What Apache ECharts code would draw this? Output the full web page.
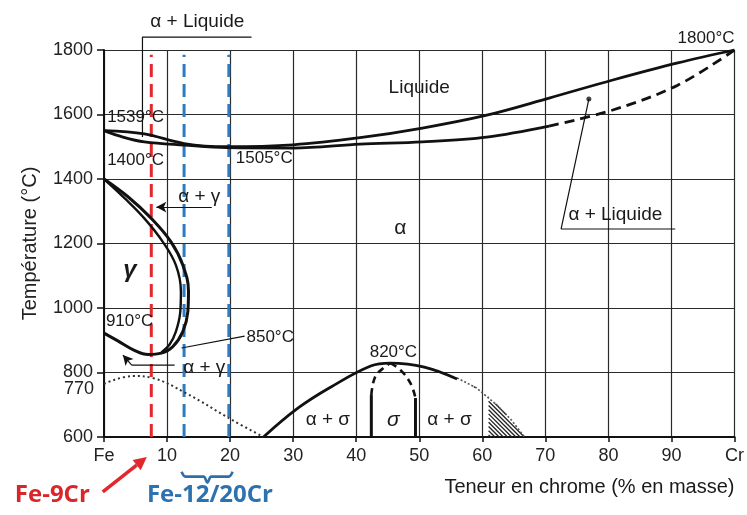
<!DOCTYPE html>
<html><head><meta charset="utf-8">
<script src="https://cdn.jsdelivr.net/npm/echarts@6/dist/echarts.min.js"></script>
<style>html,body{margin:0;padding:0;background:#fff}#c{width:747px;height:515px}</style>
</head><body><div id="c"></div>
<script>
// ---- tick labels ----
const xTickValues = [0,10,20,30,40,50,60,70,80,90,100];
const xTickLabels = ['Fe','10','20','30','40','50','60','70','80','90','Cr'];
const yTickValues = [600,800,1000,1200,1400,1600,1800];
const curieTickLabel = ['770', 0, 750];

// ---- phase boundaries [Cr %, T °C] ----
const liquidus = [[0,1550],[6.4,1540],[12.7,1510],[19.5,1500],[30,1506],[40.6,1528],[50.5,1558],[60.7,1598],[70.6,1651],[80.7,1707],[91,1760],[100,1800]];
const solidus = [[0,1550],[3,1530],[6.4,1515],[12.7,1505],[19.5,1497],[30,1496],[40.6,1508],[50.5,1515],[60.7,1530],[70.6,1564]];
const solidusDashed = [[70.6,1564],[80.7,1614],[91,1691],[100,1800]];
const gammaOuter = [[0,1400],[3.8,1345],[7.5,1278],[10.6,1206],[12.5,1133],[13.4,1051],[13.3,989],[12.5,927],[10.9,880],[9.1,860],[7,856],[4.9,868],[2.2,898],[0,922]];
const gammaInner = [[0,1400],[3.3,1340],[6.4,1278],[9.3,1206],[11.4,1133],[12.2,1051],[12.1,989],[11.4,927],[10.4,887],[9.1,862]];
const curie = [[0,765],[4.6,789],[7.7,783],[13,736],[20.3,653],[25.3,600]];
const sigmaSolvus = [[25.3,600],[30.8,690],[36,755],[42.3,820],[45.4,829],[50.8,817],[56,780]];
const sigmaDomeLeft = [[42.4,730],[43,786],[44.5,817],[45.4,829]];
const sigmaDomeRight = [[45.4,829],[47,808],[48.6,767],[49.4,721]];
const sigmaLeftWall = [[42.4,600],[42.4,730]];
const sigmaRightWall = [[49.4,600],[49.4,721]];
const hatchZone = [[56,783],[59.1,752],[62.3,699],[64.6,653],[66.7,600],[61,600],[61,724],[58.6,756],[56,783]];

// ---- studied alloys (vertical markers) ----
const alloyRed = [7.5];
const alloyBlue = [12.7, 19.8];
const markerRange = [600, 1785];

// ---- leader lines / annotation geometry [Cr %, T] ----
const leaderTop = [[23.4,1840],[6.1,1840],[6.1,1530]];
const leaderRight = [[90.6,1245],[72.5,1245],[76.9,1648]];
const leaderRightDot = [[76.9,1648]];
const leader850 = [[22.3,913],[12.3,876]];
const leaderAG2 = [[11.2,823],[4.4,823]];
const arrowAG2 = [[4.4,823],[3.0,854]];
const arrowAG1 = [[17.1,1313],[8.3,1313]];
const arrowRed = [[-0.2,430],[6.8,538]];
const brace = [[12.3,492],[12.9,477],[15.8,477],[16.4,458],[17.0,477],[19.8,477],[20.4,492]];

// ---- texts [text, Cr %, T] ----
const texts = [
  ['Liquide', 50, 1682], ['α', 47, 1248], ['γ', 4.1, 1118],
  ['α + γ', 15.1, 1344], ['α + γ', 15.9, 814],
  ['1539°C', 0.5, 1592], ['1400°C', 0.5, 1459], ['1505°C', 20.9, 1465],
  ['910°C', 0.3, 960], ['850°C', 22.6, 910], ['820°C', 45.9, 864], ['1800°C', 100, 1837],
  ['α + σ', 35.5, 653], ['σ', 45.9, 653], ['α + σ', 54.8, 653],
  ['α + Liquide', 81.1, 1288], ['α + Liquide', 14.8, 1887],
  ['Fe-9Cr', -8.2, 420], ['Fe-12/20Cr', 16.8, 420],
  ['Teneur en chrome (% en masse)', 100, 445]
];
const textStyleOf = {
  'Liquide': {size: 19}, 'α': {size: 21}, 'γ': {size: 24, weight: 'bold', style: 'italic'},
  'α + γ': {size: 19}, 'α + σ': {size: 19}, 'σ': {size: 21, style: 'italic'},
  'α + Liquide': {size: 19},
  '1800°C': {size: 17, align: 'right'},
  '1539°C': {size: 17, align: 'left'}, '1400°C': {size: 17, align: 'left'}, '1505°C': {size: 17, align: 'left'},
  '910°C': {size: 17, align: 'left'}, '850°C': {size: 17, align: 'left'}, '820°C': {size: 17},
  'Fe-9Cr': {size: 24, weight: 'bold', color: '#d9262b', family: '"Open Sans"'},
  'Fe-12/20Cr': {size: 24, weight: 'bold', color: '#2c72b0', family: '"Open Sans"'},
  'Teneur en chrome (% en masse)': {size: 20, align: 'right'}
};

const FONT = '"Liberation Sans", Arial, sans-serif';
const INK = '#111';
const RED = '#e0282d';

const chart = echarts.init(document.getElementById('c'), null, {renderer: 'canvas'});

// diagonal hatch segments clipped to a pixel polygon (lines of constant x - y)
function hatchSegments(poly, step) {
  const vals = poly.map(p => p[0] - p[1]);
  const lo = Math.min(...vals), hi = Math.max(...vals);
  const segs = [];
  for (let c = lo + step / 2; c < hi; c += step) {
    const hits = [];
    for (let i = 0; i < poly.length - 1; i++) {
      const P = poly[i], Q = poly[i + 1];
      const fp = P[0] - P[1] - c, fq = Q[0] - Q[1] - c;
      if ((fp <= 0 && fq > 0) || (fp > 0 && fq <= 0)) {
        const t = fp / (fp - fq);
        hits.push([P[0] + t * (Q[0] - P[0]), P[1] + t * (Q[1] - P[1])]);
      }
    }
    hits.sort((a, b) => a[0] - b[0]);
    for (let k = 0; k + 1 < hits.length; k += 2) segs.push([hits[k], hits[k + 1]]);
  }
  return segs;
}

function curve(data, opts) {
  return Object.assign({
    type: 'line', data: data, showSymbol: false, symbol: 'none', clip: false, silent: true,
    smooth: 0.35, lineStyle: {color: INK, width: 2.8}, z: 5
  }, opts || {});
}
function vmarker(x, color) {
  return curve([[x, markerRange[0]], [x, markerRange[1]]], {smooth: false, z: 3,
    lineStyle: {color: color, width: 3, type: [13, 7]}});
}
function arrowLine(seg, color, width, size) {
  return {type: 'line', data: [], silent: true, markLine: {
    silent: true, symbol: ['none', 'arrow'], symbolSize: size, animation: false,
    label: {show: false}, lineStyle: {color: color, width: width, type: 'solid'},
    data: [[{coord: seg[0]}, {coord: seg[1]}]]
  }};
}

const series = [
  curve(liquidus),
  curve(solidus),
  curve(solidusDashed, {lineStyle: {color: INK, width: 2.8, type: [10, 6]}}),
  curve(gammaOuter, {smooth: 0.4, lineStyle: {color: INK, width: 3}}),
  curve(gammaInner, {smooth: 0.4, lineStyle: {color: INK, width: 2.4}}),
  curve(curie, {smooth: 0.4, lineStyle: {color: '#333', width: 2, type: [2, 3]}}),
  curve(sigmaSolvus, {smooth: 0.4}),
  curve(sigmaDomeLeft, {smooth: 0.4, lineStyle: {color: INK, width: 2.6, type: [7, 5]}}),
  curve(sigmaDomeRight, {smooth: 0.4, lineStyle: {color: INK, width: 2.6, type: [7, 5]}}),
  curve(sigmaLeftWall, {smooth: false, lineStyle: {color: INK, width: 3}}),
  curve(sigmaRightWall, {smooth: false, lineStyle: {color: INK, width: 3}}),
  {
    type: 'custom', coordinateSystem: 'cartesian2d', data: [[62, 650]], clip: false, silent: true, z: 4,
    renderItem: function (params, api) {
      const pts = hatchZone.map(p => api.coord(p));
      const children = hatchSegments(pts, 4.2).map(s => ({
        type: 'line', shape: {x1: s[0][0], y1: s[0][1], x2: s[1][0], y2: s[1][1]},
        style: {stroke: '#222', lineWidth: 1.3}
      }));
      children.push({type: 'polyline', shape: {points: pts.slice(0, 5)},
        style: {stroke: '#555', lineWidth: 1.6, lineDash: [2, 2], fill: null}});
      return {type: 'group', children: children};
    }
  },
  ...alloyRed.map(x => vmarker(x, RED)),
  ...alloyBlue.map(x => vmarker(x, '#2e7bbf')),
  curve(leaderTop, {smooth: false, lineStyle: {color: INK, width: 1.2}}),
  curve(leaderRight, {smooth: false, lineStyle: {color: INK, width: 1.2}}),
  {type: 'scatter', data: leaderRightDot, symbolSize: 5, itemStyle: {color: INK}, silent: true, z: 6},
  curve(leader850, {smooth: false, lineStyle: {color: INK, width: 1.2}}),
  curve(leaderAG2, {smooth: false, lineStyle: {color: INK, width: 1.2}}),
  arrowLine(arrowAG2, INK, 1.2, [8, 10]),
  arrowLine(arrowAG1, INK, 1.2, [8, 10]),
  curve(brace, {smooth: 0.3, lineStyle: {color: '#2e6fa8', width: 2.6}})
];

chart.setOption({
  animation: false,
  backgroundColor: '#fff',
  grid: {left: 104, right: 7, top: 50, bottom: 78, containLabel: false},
  xAxis: {
    type: 'value', min: 0, max: 100, interval: 10,
    axisLine: {show: true, onZero: false, lineStyle: {color: INK, width: 2}},
    axisTick: {show: true, length: 5, lineStyle: {color: INK, width: 1.5}},
    axisLabel: {margin: 10, fontFamily: FONT, fontSize: 18, color: '#222',
      formatter: v => xTickLabels[xTickValues.indexOf(v)] ?? ''},
    splitLine: {show: true, lineStyle: {color: '#2a2a2a', width: 1.2}}
  },
  yAxis: {
    type: 'value', min: 600, max: 1800, interval: 200,
    name: 'Température (°C)', nameLocation: 'middle', nameGap: 64, nameRotate: 90,
    nameTextStyle: {fontFamily: FONT, fontSize: 20, color: '#222'},
    axisLine: {show: true, onZero: false, lineStyle: {color: INK, width: 2}},
    axisTick: {show: true, length: 7, lineStyle: {color: INK, width: 1.5}},
    axisLabel: {margin: 11, fontFamily: FONT, fontSize: 18, color: '#222',
      formatter: v => yTickValues.includes(v) ? String(v) : ''},
    splitLine: {show: true, lineStyle: {color: '#2a2a2a', width: 1.2}}
  },
  series: series
});

// text annotations anchored in data coordinates
const toPx = p => chart.convertToPixel({gridIndex: 0}, p);
const gfx = texts.map(([t, x, y]) => {
  const s = textStyleOf[t] || {size: 17};
  const p = toPx([x, y]);
  return {type: 'text', x: p[0], y: p[1], z: 100, silent: true,
    style: {text: t, fill: s.color || '#1a1a1a', align: s.align || 'center', verticalAlign: 'middle',
      font: (s.style || 'normal') + ' ' + (s.weight || 'normal') + ' ' + s.size + 'px ' + (s.family ? s.family + ', ' : '') + FONT}};
});
const cp = toPx([curieTickLabel[1], curieTickLabel[2]]);
gfx.push({type: 'text', x: cp[0] - 10, y: cp[1], z: 100, silent: true,
  style: {text: curieTickLabel[0], fill: '#222', align: 'right', verticalAlign: 'middle', font: '18px ' + FONT}});

// red arrow (below the axis, outside the plot area)
const a0 = toPx(arrowRed[0]), a1 = toPx(arrowRed[1]);
const ang = Math.atan2(a1[1] - a0[1], a1[0] - a0[0]);
const hl = 13, hw = 6.5;
const bx = a1[0] - hl * Math.cos(ang), by = a1[1] - hl * Math.sin(ang);
gfx.push({type: 'line', z: 100, silent: true, shape: {x1: a0[0], y1: a0[1], x2: bx, y2: by},
  style: {stroke: RED, lineWidth: 3.5}});
gfx.push({type: 'polygon', z: 100, silent: true, shape: {points: [
  [a1[0], a1[1]],
  [bx + hw * Math.sin(ang), by - hw * Math.cos(ang)],
  [bx - hw * Math.sin(ang), by + hw * Math.cos(ang)]]}, style: {fill: RED}});

chart.setOption({graphic: gfx});
</script></body></html>
